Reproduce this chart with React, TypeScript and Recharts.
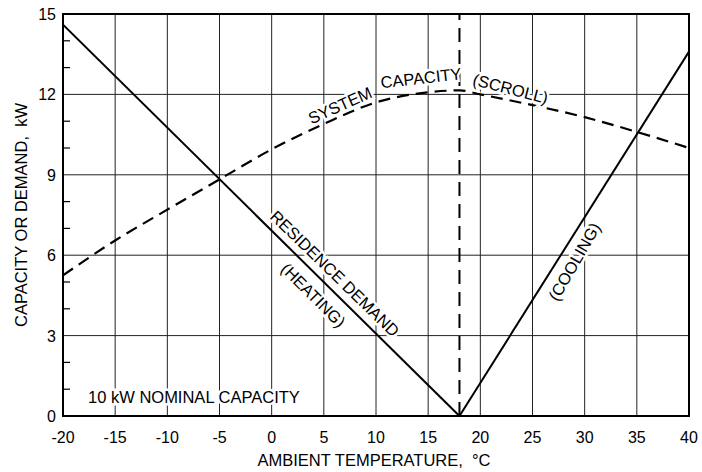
import React from 'react';
import {
  LineChart,
  Line,
  XAxis,
  YAxis,
  CartesianGrid,
  ReferenceLine,
  ReferenceDot,
  ReferenceArea,
  Label,
} from 'recharts';

// System capacity (scroll compressor), kW vs ambient temperature, °C
const capacityTemps = [-20, -15, -10, -5, 0, 5, 10, 15, 18, 20, 25, 30, 35, 40];
const capacityKw = [5.25, 6.55, 7.7, 8.83, 9.95, 10.9, 11.7, 12.08, 12.15, 12.0, 11.6, 11.15, 10.6, 10.0];

// Residence demand, heating branch and cooling branch
const heatingTemps = [-20, 18];
const heatingKw = [14.6, 0];
const coolingTemps = [18, 40];
const coolingKw = [0, 13.6];

// Balance temperature where demand is zero
const balanceTemp = 18;

// Axis ticks
const xTicks = [-20, -15, -10, -5, 0, 5, 10, 15, 20, 25, 30, 35, 40];
const yTicks = [0, 1, 2, 3, 4, 5, 6, 7, 8, 9, 10, 11, 12, 13, 14, 15];
const yMajorStep = 3;
const gridX = [-15, -10, -5, 0, 5, 10, 15, 20, 25, 30, 35];
const gridY = [3, 6, 9, 12];

const toPoints = (xs: number[], ys: number[]) => xs.map((t, i) => ({ t, kw: ys[i] }));
const capacityData = toPoints(capacityTemps, capacityKw);
const heatingData = toPoints(heatingTemps, heatingKw);
const coolingData = toPoints(coolingTemps, coolingKw);

// In-plot annotations: text, anchor in data units, rotation
const annotations = [
  { text: 'SYSTEM', t: 6.55, kw: 11.6, angle: -24 },
  { text: 'CAPACITY', t: 14.3, kw: 12.62, angle: -6.5 },
  { text: '(SCROLL)', t: 22.9, kw: 12.22, angle: 14.5 },
  { text: 'RESIDENCE DEMAND', t: 6.07, kw: 5.32, angle: 44.2 },
  { text: '(HEATING)', t: 4.0, kw: 4.51, angle: 45 },
  { text: '(COOLING)', t: 29.0, kw: 5.76, angle: -60 },
];
const nominalNote = { text: '10 kW NOMINAL CAPACITY', t: -17.6, kw: 0.72 };

const FONT = '"Liberation Sans", Arial, Helvetica, sans-serif';
const TICK_SIZE = 16;
const TEXT_SIZE = 16.5;

const YTick = (props: any) => {
  const { x, y, payload } = props;
  const v = payload.value as number;
  return (
    <g>
      {v % yMajorStep === 0 ? (
        <text x={x - 7} y={y + 6} textAnchor="end" fontSize={TICK_SIZE} fontFamily={FONT} fill="#000">
          {v}
        </text>
      ) : (
        <line x1={x} y1={y} x2={x + 7} y2={y} stroke="#000" strokeWidth={1.2} />
      )}
    </g>
  );
};

const XTick = (props: any) => {
  const { x, y, payload } = props;
  return (
    <text x={x} y={y + 27} textAnchor="middle" fontSize={TICK_SIZE} fontFamily={FONT} fill="#000">
      {payload.value}
    </text>
  );
};

const rotatedText = (text: string, angle: number, anchor: string = 'middle') => (props: any) => {
  const { cx, cy } = props;
  return (
    <text
      x={cx}
      y={cy}
      transform={`rotate(${angle} ${cx} ${cy})`}
      textAnchor={anchor}
      dominantBaseline="central"
      fontSize={TEXT_SIZE}
      fontFamily={FONT}
      fill="#000"
      stroke="#fff"
      strokeWidth={5}
      paintOrder="stroke"
      style={{ whiteSpace: 'pre' }}
    >
      {text}
    </text>
  );
};

export default function App() {
  return (
    <div style={{ position: 'absolute', left: 0, top: 0, background: '#fff' }}>
      <LineChart
        width={702}
        height={472}
        margin={{ top: 14, right: 13, bottom: 0, left: 0 }}
      >
        <CartesianGrid
          verticalValues={gridX}
          horizontalValues={gridY}
          stroke="#222"
          strokeWidth={1}
        />
        <XAxis
          dataKey="t"
          type="number"
          domain={[-20, 40]}
          ticks={xTicks}
          allowDataOverflow
          height={56}
          tickSize={0}
          tickMargin={0}
          tickLine={false}
          axisLine={{ stroke: '#000', strokeWidth: 2 }}
          tick={<XTick />}
        >
          <Label
            content={(p: any) => (
              <text
                x={p.viewBox.x + p.viewBox.width / 2 - 2}
                y={p.viewBox.y + 50}
                textAnchor="middle"
                fontSize={TEXT_SIZE}
                fontFamily={FONT}
                fill="#000"
                style={{ whiteSpace: 'pre' }}
              >
                {'AMBIENT TEMPERATURE,  °C'}
              </text>
            )}
          />
        </XAxis>
        <YAxis
          type="number"
          domain={[0, 15]}
          ticks={yTicks}
          interval={0}
          width={63}
          tickSize={0}
          tickMargin={0}
          tickLine={false}
          axisLine={{ stroke: '#000', strokeWidth: 2 }}
          tick={<YTick />}
        >
          <Label
            content={(p: any) => {
              const cx = p.viewBox.x + 21;
              const cy = p.viewBox.y + p.viewBox.height / 2;
              return (
                <text
                  x={cx}
                  y={cy}
                  transform={`rotate(-90 ${cx} ${cy})`}
                  textAnchor="middle"
                  dominantBaseline="central"
                  fontSize={TEXT_SIZE}
                  fontFamily={FONT}
                  fill="#000"
                  style={{ whiteSpace: 'pre' }}
                >
                  {'CAPACITY OR DEMAND,  kW'}
                </text>
              );
            }}
          />
        </YAxis>

        {annotations.map((a) => (
          <ReferenceDot
            key={a.text}
            x={a.t}
            y={a.kw}
            r={1}
            ifOverflow="visible"
            shape={rotatedText(a.text, a.angle)}
          />
        ))}
        <ReferenceDot
          x={nominalNote.t}
          y={nominalNote.kw}
          r={1}
          ifOverflow="visible"
          shape={rotatedText(nominalNote.text, 0, 'start')}
        />

        <ReferenceLine
          x={balanceTemp}
          stroke="#000"
          strokeWidth={2}
          strokeDasharray="14 8"
          ifOverflow="visible"
        />

        <Line
          data={capacityData}
          dataKey="kw"
          type="monotone"
          stroke="#000"
          strokeWidth={2.2}
          strokeDasharray="12 7"
          dot={false}
          activeDot={false}
          isAnimationActive={false}
        />
        <Line
          data={heatingData}
          dataKey="kw"
          type="linear"
          stroke="#000"
          strokeWidth={2}
          dot={false}
          activeDot={false}
          isAnimationActive={false}
        />
        <Line
          data={coolingData}
          dataKey="kw"
          type="linear"
          stroke="#000"
          strokeWidth={2}
          dot={false}
          activeDot={false}
          isAnimationActive={false}
        />

        <ReferenceArea
          x1={-20}
          x2={40}
          y1={0}
          y2={15}
          fill="none"
          stroke="#000"
          strokeWidth={2}
          ifOverflow="visible"
        />
      </LineChart>
    </div>
  );
}
